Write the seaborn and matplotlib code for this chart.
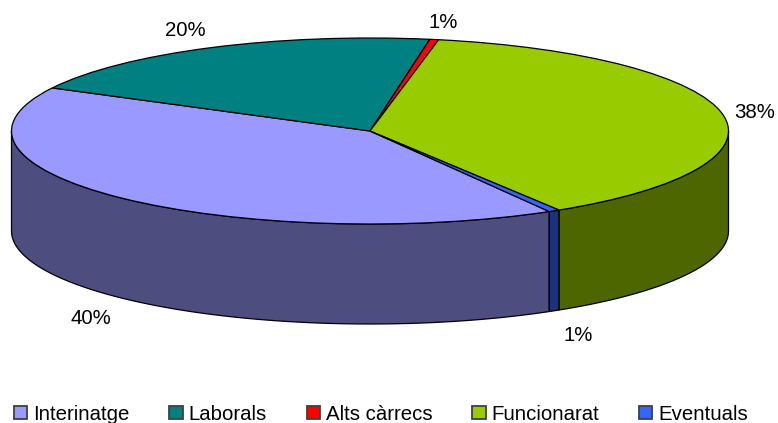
import numpy as np
import seaborn as sns
import matplotlib.pyplot as plt

categories = ["Interinatge", "Laborals", "Alts càrrecs", "Funcionarat", "Eventuals"]
values = [41.0, 20.0, 0.4, 38.1, 0.5]
pct_labels = ["40%", "20%", "1%", "38%", "1%"]
top_colors = ["#9999ff", "#008080", "#ff0000", "#99cc00", "#3366ff"]
side_colors = ["#4d4d80", "#004040", "#800000", "#4d6600", "#1a3380"]

W, H = 778, 423
CX, CY = 370, 131   # centre of the top ellipse, pixels
RX, RY = 358.5, 93  # ellipse radii, pixels
DEPTH = 100 / RY    # wall height in y units
START = -60

sns.set_theme(style="white")
plt.rcParams["font.family"] = ["Liberation Sans", "DejaVu Sans"]

fig = plt.figure(figsize=(W / 100, H / 100), dpi=100)
ax = fig.add_axes([0, 0, 1, 1])

wedges, _ = ax.pie(values, colors=sns.color_palette(top_colors), startangle=START,
                   counterclock=False, radius=1,
                   wedgeprops={"edgecolor": "black", "linewidth": 0.9, "zorder": 3})
ax.set_aspect("auto")
ax.set_xlim(-CX / RX, (W - CX) / RX)
ax.set_ylim(-(H - CY) / RY, CY / RY)
ax.axis("off")

# side wall, only the front half of the ellipse is visible
angle = START
for val, col in zip(values, side_colors):
    end = angle - val * 3.6
    # slices run clockwise past -360, so check the wrapped window too
    for shift in (0, 360):
        lo, hi = max(end + shift, -180), min(angle + shift, 0)
        if hi > lo:
            t = np.radians(np.linspace(hi, lo, 80))
            x, y = np.cos(t), np.sin(t)
            ax.fill(np.r_[x, x[::-1]], np.r_[y, y[::-1] - DEPTH], facecolor=col,
                    edgecolor="black", linewidth=0.9, zorder=2)
    angle = end

# label centres in pixels: Interinatge, Laborals, Alts, Funcionarat, Eventuals
label_pos = [(91, 318.5), (185, 31), (443, 23), (755, 112), (578, 335)]
for txt, (px, py) in zip(pct_labels, label_pos):
    fig.text(px / W, 1 - py / H, txt, fontsize=14.7, color="black", ha="center", va="center")

leg = ax.legend(wedges, categories, ncol=5, frameon=False, fontsize=14.7,
                loc="center left", bbox_to_anchor=(14 / W, 1 - 414 / H),
                bbox_transform=fig.transFigure, borderaxespad=0, borderpad=0,
                handlelength=0.65, handleheight=0.65, handletextpad=0.3,
                columnspacing=1.94, labelcolor="black")
for h in leg.legend_handles:
    h.set_edgecolor("#404040")
    h.set_linewidth(1.3)

fig.savefig("out.png", dpi=100, facecolor="white")
